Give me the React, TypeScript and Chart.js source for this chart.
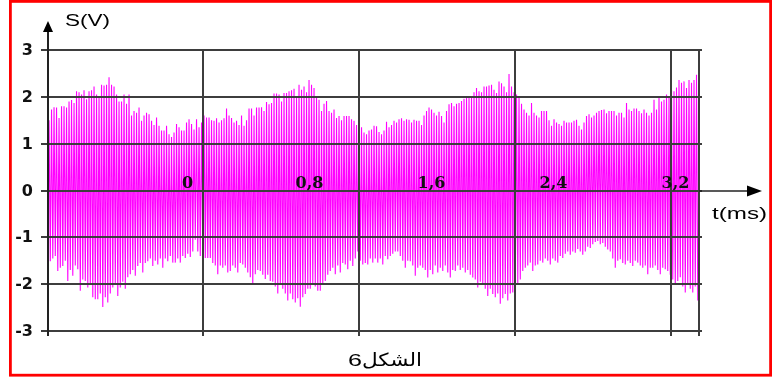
import React, { useEffect, useRef } from "react";
import { Chart, registerables } from "chart.js";

Chart.register(...registerables);

// ---- data ----
const Y_TICKS = [3, 2, 1, 0, -1, -2, -3];
const X_LABEL_VALUES = [0, 0.8, 1.6, 2.4, 3.2]; // ms
const X_LABELS = ["0", "0,8", "1,6", "2,4", "3,2"];
const X_AXIS_TITLE = "t(ms)";
const Y_AXIS_TITLE = "S(V)";
const CAPTION_WORD = "الشكل";
const CAPTION_NUMBER = "6";

// sampling of the recorded signal (ms)
const T_START = -0.9082;
const T_STEP = 0.0081967;

// successive positive peaks of the signal (V)
const UPPER_PEAKS = [
  1.5, 1.73, 1.78, 1.77, 1.55, 1.8, 1.8, 1.77, 1.9, 1.93,
  1.87, 2.12, 2.1, 2.05, 2.14, 1.95, 2.12, 2.14, 2.22, 2.05,
  2.01, 2.26, 2.24, 2.26, 2.42, 2.26, 2.22, 2.05, 1.9, 1.9,
  2.05, 1.85, 2.05, 1.6, 1.7, 1.66, 1.77, 1.49, 1.6, 1.66,
  1.63, 1.49, 1.4, 1.56, 1.38, 1.28, 1.28, 1.38, 1.2, 1.14,
  1.24, 1.42, 1.35, 1.28, 1.28, 1.45, 1.52, 1.42, 1.3, 1.52,
  1.35, 1.45, 1.6, 1.56, 1.56, 1.5, 1.49, 1.54, 1.45, 1.5,
  1.54, 1.75, 1.6, 1.55, 1.45, 1.49, 1.4, 1.6, 1.38, 1.5,
  1.75, 1.75, 1.6, 1.77, 1.77, 1.78, 1.7, 1.89, 1.84, 1.87,
  2.07, 2.07, 2.05, 1.9, 2.08, 2.08, 2.12, 2.14, 2.17, 1.98,
  2.26, 2.15, 2.22, 2.1, 2.36, 2.26, 2.19, 2.0, 1.94, 1.7,
  1.85, 1.91, 1.7, 1.66, 1.73, 1.55, 1.59, 1.5, 1.59, 1.59,
  1.59, 1.52, 1.49, 1.4, 1.45, 1.35, 1.24, 1.2, 1.28, 1.3,
  1.38, 1.37, 1.25, 1.2, 1.28, 1.47, 1.35, 1.4, 1.49, 1.45,
  1.52, 1.54, 1.49, 1.52, 1.51, 1.45, 1.51, 1.49, 1.49, 1.4,
  1.6, 1.7, 1.77, 1.73, 1.66, 1.6, 1.68, 1.59, 1.45, 1.7,
  1.84, 1.87, 1.8, 1.85, 1.87, 1.91, 1.96, 1.98, 1.98, 2.0,
  2.1, 2.19, 2.12, 2.1, 2.22, 2.22, 2.24, 2.26, 2.15, 2.08,
  2.33, 2.29, 2.22, 2.1, 2.49, 2.22, 2.1, 2.05, 1.98, 1.85,
  1.73, 1.66, 1.6, 1.87, 1.66, 1.6, 1.56, 1.7, 1.7, 1.7,
  1.5, 1.38, 1.52, 1.45, 1.42, 1.38, 1.49, 1.45, 1.45, 1.45,
  1.49, 1.51, 1.38, 1.3, 1.45, 1.59, 1.63, 1.56, 1.6, 1.66,
  1.7, 1.72, 1.73, 1.65, 1.7, 1.7, 1.7, 1.6, 1.66, 1.66,
  1.56, 1.87, 1.73, 1.7, 1.75, 1.75, 1.7, 1.65, 1.73, 1.66,
  1.6, 1.66, 1.94, 1.73, 1.98, 1.9, 1.94, 2.05, 2.0, 2.14,
  2.12, 2.2, 2.36, 2.3, 2.33, 2.19, 2.36, 2.3, 2.36, 2.47,
];

// successive negative peaks of the signal (V)
const LOWER_PEAKS = [
  -1.51, -1.45, -1.4, -1.72, -1.65, -1.61, -1.5, -1.93, -1.7, -1.82,
  -1.6, -1.68, -2.14, -1.9, -1.93, -2.07, -2.0, -2.28, -2.32, -2.32,
  -2.2, -2.49, -2.28, -2.39, -2.2, -2.07, -2.0, -2.25, -2.07, -1.95,
  -2.1, -1.85, -1.79, -1.7, -1.82, -1.61, -1.55, -1.75, -1.55, -1.51,
  -1.45, -1.61, -1.5, -1.58, -1.45, -1.65, -1.45, -1.51, -1.4, -1.54,
  -1.54, -1.45, -1.54, -1.4, -1.44, -1.35, -1.42, -1.3, -1.05, -1.3,
  -1.4, -1.35, -1.44, -1.44, -1.44, -1.55, -1.6, -1.79, -1.6, -1.65,
  -1.6, -1.75, -1.72, -1.6, -1.65, -1.75, -1.55, -1.58, -1.65, -1.75,
  -1.85, -2.0, -1.79, -1.7, -1.72, -1.8, -1.89, -1.8, -1.93, -1.95,
  -2.05, -2.2, -2.0, -2.1, -2.2, -2.35, -2.2, -2.32, -2.39, -2.3,
  -2.48, -2.28, -2.21, -2.1, -2.1, -2.0, -2.05, -2.14, -2.14, -2.0,
  -1.93, -1.8, -1.72, -1.65, -1.79, -1.6, -1.75, -1.55, -1.58, -1.68,
  -1.5, -1.61, -1.45, -1.3, -1.5, -1.58, -1.55, -1.58, -1.45, -1.54,
  -1.45, -1.54, -1.45, -1.58, -1.4, -1.47, -1.4, -1.35, -1.3, -1.3,
  -1.4, -1.5, -1.65, -1.5, -1.51, -1.6, -1.82, -1.65, -1.6, -1.65,
  -1.7, -1.86, -1.7, -1.79, -1.6, -1.75, -1.65, -1.72, -1.6, -1.75,
  -1.86, -1.7, -1.72, -1.6, -1.7, -1.65, -1.75, -1.7, -1.8, -1.86,
  -1.9, -2.07, -1.95, -2.0, -2.1, -2.25, -2.1, -2.21, -2.28, -2.2,
  -2.42, -2.3, -2.21, -2.35, -2.2, -2.18, -2.1, -2.0, -1.9, -1.72,
  -1.65, -1.6, -1.54, -1.72, -1.6, -1.58, -1.5, -1.54, -1.45, -1.5,
  -1.58, -1.45, -1.5, -1.54, -1.4, -1.44, -1.35, -1.3, -1.37, -1.3,
  -1.33, -1.25, -1.3, -1.37, -1.3, -1.2, -1.23, -1.15, -1.1, -1.08,
  -1.15, -1.12, -1.2, -1.26, -1.3, -1.45, -1.65, -1.5, -1.47, -1.55,
  -1.58, -1.5, -1.55, -1.61, -1.5, -1.54, -1.6, -1.65, -1.6, -1.79,
  -1.65, -1.65, -1.6, -1.7, -1.79, -1.65, -1.68, -1.72, -1.8, -1.9,
  -2.0, -1.93, -1.85, -2.05, -2.18, -2.0, -2.1, -2.18, -2.05, -2.35,
];

const X_MIN = -0.915;
const X_MAX = 3.354;
const X_GRID = [0.101, 1.125, 2.148, 3.17, X_MAX];

function buildPoints() {
  const pts: { x: number; y: number }[] = [];
  for (let i = 0; i < UPPER_PEAKS.length; i++) {
    pts.push({ x: T_START + 2 * i * T_STEP, y: UPPER_PEAKS[i] });
    pts.push({ x: T_START + (2 * i + 1) * T_STEP, y: LOWER_PEAKS[i] });
  }
  return pts;
}

function stretchText(ctx: CanvasRenderingContext2D, text: string, x: number, y: number, width: number, font: string) {
  ctx.save();
  ctx.font = font;
  ctx.textAlign = "left";
  ctx.textBaseline = "alphabetic";
  const w = ctx.measureText(text).width;
  ctx.translate(x, y);
  ctx.scale(width / w, 1);
  ctx.fillText(text, 0, 0);
  ctx.restore();
}

const overlay = {
  id: "overlay",
  afterDatasetsDraw(chart: any) {
    const { ctx, chartArea: a } = chart;
    const xs = chart.scales.x;
    const ys = chart.scales.y;
    ctx.save();
    const top = ys.getPixelForValue(3);
    const bottom = ys.getPixelForValue(-3);
    const y0 = ys.getPixelForValue(0);

    // grid
    ctx.strokeStyle = "#3d3d3d";
    ctx.lineWidth = 2;
    for (const v of Y_TICKS) {
      const py = Math.round(ys.getPixelForValue(v));
      ctx.beginPath();
      ctx.moveTo(a.left - 7, py);
      ctx.lineTo(a.right + 3, py);
      ctx.stroke();
    }
    for (const v of X_GRID) {
      const px = Math.round(xs.getPixelForValue(v));
      ctx.beginPath();
      ctx.moveTo(px, Math.round(top));
      ctx.lineTo(px, Math.round(bottom) + 5);
      ctx.stroke();
    }

    // y axis with arrow
    ctx.strokeStyle = "#222";
    const ax = Math.round(a.left);
    ctx.beginPath();
    ctx.moveTo(ax, Math.round(bottom) + 5);
    ctx.lineTo(ax, 28);
    ctx.stroke();
    ctx.fillStyle = "#000";
    ctx.beginPath();
    ctx.moveTo(ax, 21);
    ctx.lineTo(ax - 5, 32);
    ctx.lineTo(ax + 5, 32);
    ctx.closePath();
    ctx.fill();

    // x axis with arrow
    const ay = Math.round(y0);
    ctx.lineWidth = 1.6;
    ctx.beginPath();
    ctx.moveTo(a.right, ay);
    ctx.lineTo(752, ay);
    ctx.stroke();
    ctx.beginPath();
    ctx.moveTo(762, ay);
    ctx.lineTo(747, ay - 5.5);
    ctx.lineTo(747, ay + 5.5);
    ctx.closePath();
    ctx.fill();

    // y tick labels
    ctx.fillStyle = "#111";
    ctx.font = 'bold 16px "DejaVu Sans"';
    ctx.textAlign = "right";
    ctx.textBaseline = "middle";
    for (const v of Y_TICKS) {
      ctx.fillText(String(v), 33, ys.getPixelForValue(v) + 1);
    }

    // x tick labels (inside, above the axis)
    ctx.font = 'bold 16px "DejaVu Serif"';
    ctx.textAlign = "center";
    ctx.textBaseline = "alphabetic";
    X_LABEL_VALUES.forEach((v, i) => {
      ctx.fillText(X_LABELS[i], xs.getPixelForValue(v), y0 - 3);
    });

    // titles
    ctx.fillStyle = "#000";
    stretchText(ctx, Y_AXIS_TITLE, 65, 26, 45, '16px "Liberation Sans"');
    stretchText(ctx, X_AXIS_TITLE, 712, 219, 55, '16px "Liberation Sans"');
    stretchText(ctx, CAPTION_NUMBER, 348, 366, 14, '17px "Liberation Sans"');
    stretchText(ctx, CAPTION_WORD, 362, 366, 60, '18px "DejaVu Sans"');

    // red frame
    ctx.strokeStyle = "#ff0000";
    ctx.lineWidth = 2.8;
    ctx.strokeRect(10.4, 1.4, 760.2, 373.8);
    ctx.restore();
  },
};

export default function App() {
  const ref = useRef<HTMLCanvasElement | null>(null);
  useEffect(() => {
    document.body.style.margin = "0";
    const canvas = ref.current!;
    const chart = new Chart(canvas, {
      type: "line",
      data: {
        datasets: [
          {
            data: buildPoints(),
            borderColor: "#ff00ff",
            borderWidth: 1.1,
            pointRadius: 0,
            tension: 0,
            fill: false,
          },
        ],
      },
      options: {
        responsive: false,
        animation: false,
        devicePixelRatio: 1,
        layout: { padding: { left: 48, top: 50, right: 79, bottom: 47 } },
        plugins: { legend: { display: false }, tooltip: { enabled: false } },
        scales: {
          x: { type: "linear", display: false, min: X_MIN, max: X_MAX },
          y: { type: "linear", display: false, min: -3, max: 3 },
        },
      },
      plugins: [overlay],
    });
    return () => chart.destroy();
  }, []);
  return (
    <div style={{ position: "relative", width: 778, height: 378, background: "#fff" }}>
      <canvas ref={ref} width={778} height={378} style={{ display: "block" }} />
    </div>
  );
}
